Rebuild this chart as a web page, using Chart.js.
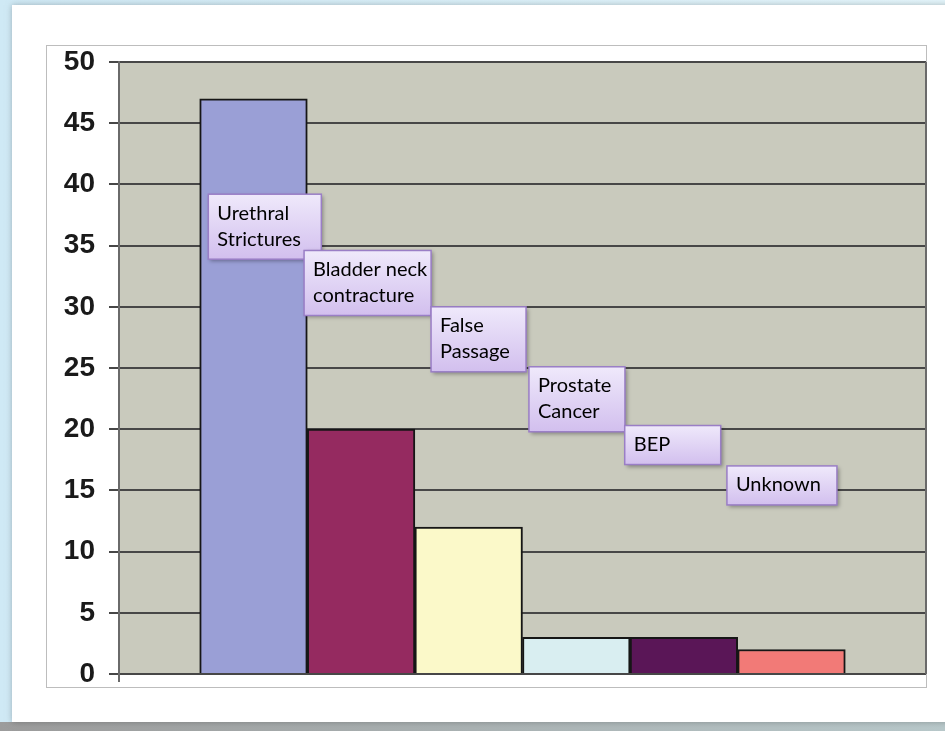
<!DOCTYPE html>
<html>
<head>
<meta charset="utf-8">
<script src="https://cdn.jsdelivr.net/npm/chart.js@4.4.1/dist/chart.umd.min.js"></script>
<style>
  html, body { margin: 0; padding: 0; background: #dcf0f8; }
  #wrap { width: 945px; height: 731px; }
</style>
</head>
<body>
<div id="wrap"><canvas id="complicationsChart" width="945" height="731"></canvas></div>
<script>
// data
const categories = [['Urethral', 'Strictures'], ['Bladder neck', 'contracture'], ['False', 'Passage'], ['Prostate', 'Cancer'], ['BEP'], ['Unknown']];
const values = [47, 20, 12, 3, 3, 2];
const barColors = ['#9a9fd6', '#952a60', '#fbf9c9', '#d9eef1', '#5a1657', '#f27a77'];
const yMin = 0, yMax = 50, yStep = 5;

// callout boxes: shift from bar left edge (in bar widths), top in axis units, width in px
const callouts = [
    { dx: 0.08, top: 39.2, w: 113 },
    { dx: -0.03, top: 34.6, w: 127 },
    { dx: 0.15, top: 30.0, w: 95 },
    { dx: 0.06, top: 25.1, w: 96 },
    { dx: -0.05, top: 20.3, w: 96 },
    { dx: -0.10, top: 17.0, w: 110 }
];

const pageBackground = {
    id: 'pageBackground',
    beforeDraw(chart) {
        const ctx = chart.ctx, W = chart.width, H = chart.height;
        ctx.save();
        let g = ctx.createLinearGradient(0, 0, W, 0);
        g.addColorStop(0, '#cfe9f5');
        g.addColorStop(1, '#e3f5fb');
        ctx.fillStyle = g;
        ctx.fillRect(0, 0, W, H);

        // bottom band
        g = ctx.createLinearGradient(0, 0, W, 0);
        g.addColorStop(0, '#9c9c9c');
        g.addColorStop(1, '#b8c8ca');
        ctx.fillStyle = g;
        ctx.fillRect(0, 722, W, H - 722);

        // white card
        ctx.shadowColor = 'rgba(0,0,0,0.25)';
        ctx.shadowBlur = 6;
        ctx.fillStyle = '#ffffff';
        ctx.fillRect(12, 5, W, 717);
        ctx.shadowColor = 'transparent';

        // picture frame
        ctx.strokeStyle = '#bdbdbd';
        ctx.lineWidth = 1;
        ctx.strokeRect(46.5, 45.5, 880, 642);

        // plot area
        const a = chart.chartArea;
        ctx.fillStyle = '#c9cabd';
        ctx.fillRect(a.left, a.top, a.right - a.left, a.bottom - a.top);
        ctx.restore();
    },
    afterDraw(chart) {
        const ctx = chart.ctx, a = chart.chartArea;
        ctx.save();
        ctx.strokeStyle = '#6a6a6a';
        ctx.lineWidth = 2;
        ctx.beginPath();
        ctx.moveTo(a.right, a.top);
        ctx.lineTo(a.right, a.bottom);
        ctx.moveTo(a.left, a.bottom);
        ctx.lineTo(a.left, a.bottom + 8);
        ctx.stroke();
        ctx.restore();
    }
};

const calloutBoxes = {
    id: 'calloutBoxes',
    afterDatasetsDraw(chart) {
        const ctx = chart.ctx;
        const xs = chart.scales.x, ys = chart.scales.y;
        ctx.save();
        callouts.forEach((c, i) => {
            const lines = categories[i];
            const left = xs.getPixelForValue(i - 0.5 + c.dx);
            const top = ys.getPixelForValue(c.top);
            const h = lines.length * 26 + 13;

            ctx.shadowColor = 'rgba(0,0,0,0.35)';
            ctx.shadowBlur = 4;
            ctx.shadowOffsetX = 2;
            ctx.shadowOffsetY = 2;
            const g = ctx.createLinearGradient(0, top, 0, top + h);
            g.addColorStop(0, '#efe9fb');
            g.addColorStop(1, '#d2bfee');
            ctx.fillStyle = g;
            ctx.fillRect(left, top, c.w, h);
            ctx.shadowColor = 'transparent';
            ctx.strokeStyle = '#9a7ec6';
            ctx.lineWidth = 1.5;
            ctx.strokeRect(left, top, c.w, h);

            ctx.fillStyle = '#000000';
            ctx.font = '20px Lato';
            ctx.textBaseline = 'middle';
            ctx.textAlign = 'left';
            lines.forEach((t, k) => ctx.fillText(t, left + 9, top + 19 + k * 26));
        });
        ctx.restore();
    }
};

new Chart(document.getElementById('complicationsChart'), {
    type: 'bar',
    data: {
        labels: categories,
        datasets: [{
            data: values.map((v, i) => ({ x: i, y: v })),
            backgroundColor: barColors,
            borderColor: '#161616',
            borderWidth: 2,
            barPercentage: 1,
            categoryPercentage: 1
        }]
    },
    options: {
        responsive: false,
        animation: false,
        layout: { padding: { left: 0, top: 62, right: 19, bottom: 57 } },
        plugins: {
            legend: { display: false },
            tooltip: { enabled: false }
        },
        scales: {
            x: {
                type: 'linear',
                display: false,
                offset: false,
                min: -1.25,
                max: 6.25,
                // one tick per bar so the bar width comes from the bar spacing
                afterBuildTicks(scale) { scale.ticks = values.map((v, i) => ({ value: i })); }
            },
            y: {
                min: yMin,
                max: yMax,
                afterFit(scale) { scale.width = 119; },
                border: { display: true, color: '#6a6a6a', width: 2 },
                grid: { color: '#474747', lineWidth: 2, tickLength: 10, drawTicks: true },
                ticks: {
                    stepSize: yStep,
                    padding: 14,
                    color: '#1a1a1a',
                    font: { family: '"Liberation Sans", Arial, sans-serif', size: 28, weight: 'bold' }
                }
            }
        }
    },
    plugins: [pageBackground, calloutBoxes]
});
</script>
</body>
</html>
